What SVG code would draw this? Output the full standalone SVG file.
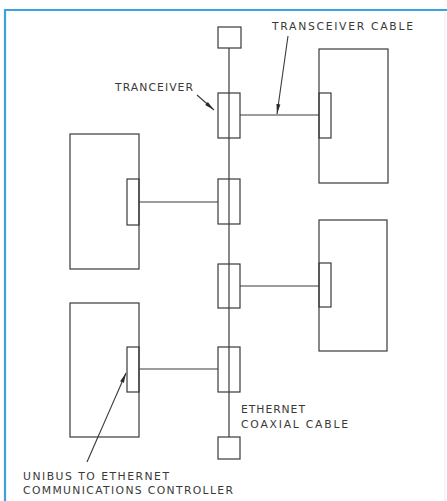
<svg xmlns="http://www.w3.org/2000/svg" width="447" height="501" viewBox="0 0 447 501">
<style>
.ln{fill:none;stroke:#3a3a3a;stroke-width:1.2}
.bx{fill:none;stroke:#3a3a3a;stroke-width:1.2}
.t{font-family:"DejaVu Sans","Liberation Sans",sans-serif;font-size:10.8px;fill:#3a3a3a;font-weight:normal}
.ar{fill:none;stroke:#3a3a3a;stroke-width:1.1}
</style>
<defs>
<marker id="ah" markerWidth="11" markerHeight="6" refX="10" refY="3" orient="auto" markerUnits="userSpaceOnUse">
<path d="M0,1 L10,3 L0,5 Z" fill="#2a2a2a"/>
</marker>
</defs>
<rect width="447" height="501" fill="#fff"/>
<g id="frame">
<path d="M5,501 V10 H447" fill="none" stroke="#3aa2e2" stroke-width="2.2"/>
<line x1="445" y1="12" x2="445" y2="501" stroke="#eeeeee" stroke-width="1"/>
</g>
<g id="connectors">
<line class="ln" x1="229" y1="48" x2="229" y2="437"/>
<line class="ln" x1="240" y1="115" x2="319" y2="115"/>
<line class="ln" x1="139" y1="202" x2="218" y2="202"/>
<line class="ln" x1="240" y1="286" x2="319" y2="286"/>
<line class="ln" x1="139" y1="369" x2="218" y2="369"/>
<line class="ar" x1="288" y1="36" x2="277" y2="114" marker-end="url(#ah)"/>
<line class="ar" x1="197" y1="95" x2="214" y2="110" marker-end="url(#ah)"/>
<line class="ar" x1="87" y1="462" x2="126" y2="373" marker-end="url(#ah)"/>
</g>
<g id="terminator-top"><rect class="bx" x="218" y="27" width="23" height="21"/></g>
<g id="terminator-bottom"><rect class="bx" x="218" y="437" width="22" height="22"/></g>
<g id="transceiver-1"><rect class="ln" x="218" y="93" width="22" height="45"/></g>
<g id="transceiver-2"><rect class="ln" x="218" y="179" width="22" height="45"/></g>
<g id="transceiver-3"><rect class="ln" x="218" y="264" width="22" height="44"/></g>
<g id="transceiver-4"><rect class="ln" x="218" y="347" width="22" height="45"/></g>
<g id="station-right-1">
<rect class="bx" x="319" y="49" width="69" height="134"/>
<rect class="bx" x="319" y="93" width="12" height="45"/>
</g>
<g id="station-right-2">
<rect class="bx" x="319" y="220" width="68" height="131"/>
<rect class="bx" x="319" y="263" width="12" height="44"/>
</g>
<g id="station-left-1">
<rect class="bx" x="70" y="134" width="69" height="135"/>
<rect class="bx" x="127" y="179" width="12" height="46"/>
</g>
<g id="station-left-2">
<rect class="bx" x="70" y="303" width="69" height="134"/>
<rect class="bx" x="127" y="347" width="12" height="45"/>
</g>
<g id="labels">
<text class="t" x="272" y="30" textLength="141" lengthAdjust="spacing">TRANSCEIVER CABLE</text>
<text class="t" x="115" y="91" textLength="78" lengthAdjust="spacing">TRANCEIVER</text>
<text class="t" x="241" y="413" textLength="64" lengthAdjust="spacing">ETHERNET</text>
<text class="t" x="241" y="428" textLength="107" lengthAdjust="spacing">COAXIAL CABLE</text>
<text class="t" x="23" y="480" textLength="146" lengthAdjust="spacing">UNIBUS TO ETHERNET</text>
<text class="t" x="23" y="494" textLength="210" lengthAdjust="spacing">COMMUNICATIONS CONTROLLER</text>
</g>
</svg>
